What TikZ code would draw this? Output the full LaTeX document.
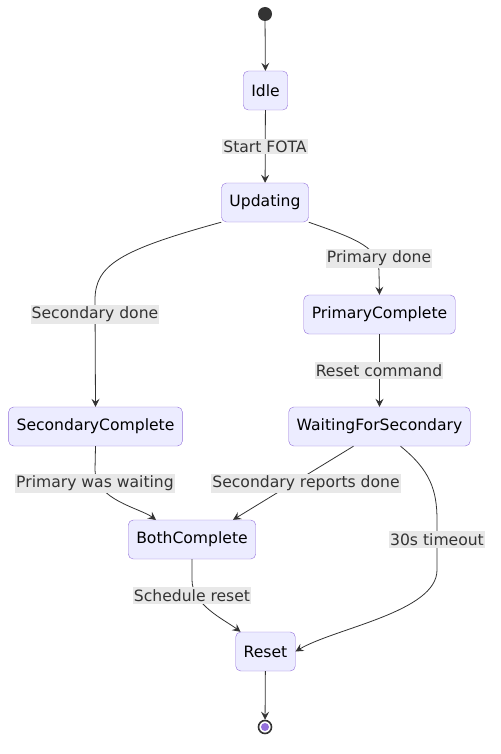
\documentclass[tikz,border=0pt]{standalone}
\usepackage{fontspec}
\setmainfont{DejaVu Sans}
\usepackage{tikz}
\usetikzlibrary{arrows.meta}
\definecolor{stfill}{HTML}{ECECFF}
\definecolor{stline}{HTML}{9370DB}
\definecolor{ink}{HTML}{333333}
\definecolor{lblbg}{HTML}{E8E8E8}
\tikzset{
  statenode/.style = {rectangle, rounded corners=5pt, draw=stline, fill=stfill,
    text=black, inner xsep=8pt, minimum height=39pt,
    font=\fontsize{15.6}{18}\selectfont},% state box
  lbl/.style = {fill=lblbg, text=ink, inner xsep=1pt, inner ysep=2pt,
    font=\fontsize{15.6}{18}\selectfont},% edge label
  trans/.style = {draw=ink, line width=0.8pt,
    -{Stealth[length=8pt,width=8pt,inset=3pt]}},% transition
  startnode/.style = {circle, fill=ink, inner sep=0pt, minimum size=14pt},
  endnode/.style = {circle, draw=ink, line width=1.6pt, fill=white,
    inner sep=0pt, minimum size=13pt}
}

\begin{document}
\begin{tikzpicture}[x=1pt, y=-1pt]
  \useasboundingbox (0,0) rectangle (500,754);
  % states
  \node [startnode] (init) at (265,14) {};
  \node [statenode] (idle) at (265.5,90.5) {Idle};
  \node [statenode] (upd) at (265,202.5) {Updating};
  \node [statenode] (pc) at (379.5,314.5) {PrimaryComplete};
  \node [statenode] (sc) at (95.5,426.5) {SecondaryComplete};
  \node [statenode] (wfs) at (379.5,426.5) {WaitingForSecondary};
  \node [statenode] (both) at (192,539.5) {BothComplete};
  \node [statenode] (rst) at (265.5,651.5) {Reset};
  \node [endnode] (fin) at (265,727) {};
  \fill [stline] (fin) circle (4pt);
  % transitions
  \draw [trans] (init) -- (idle);
  \draw [trans] (idle) -- (upd);
  \draw [trans] (upd.south east) .. controls (360,240) and (379,248) .. (379,272) -- (pc.north);
  \draw [trans] (upd.south west) .. controls (120,250) and (95,265) .. (95,300) -- (sc.north);
  \draw [trans] (pc) -- (wfs);
  \draw [trans] (sc.south) -- (95,470) .. controls (95,500) and (140,508) .. (156,520);
  \draw [trans] ([xshift=-26pt]wfs.south) -- ([xshift=41pt]both.north);
  \draw [trans] ([xshift=21pt]wfs.south) .. controls (430,470) and (437,490) .. (437,520)
    -- (437,570) .. controls (437,612) and (335,628) .. (rst.east);
  \draw [trans] (both.south) -- (192,580) .. controls (192,605) and (225,620) .. ([xshift=-25pt]rst.north);
  \draw [trans] (rst) -- (fin);
  % labels
  \node [lbl] (l1) at (265,146.5) {Start FOTA};
  \node [lbl] (l2) at (379,258.5) {Primary done};
  \node [lbl] (l3) at (95,314.5) {Secondary done};
  \node [lbl] (l4) at (379,370.5) {Reset command};
  \node [lbl] (l5) at (95,483.5) {Primary was waiting};
  \node [lbl] (l6) at (306,483.5) {Secondary reports done};
  \node [lbl] (l7) at (437,539.5) {30s timeout};
  \node [lbl] (l8) at (192,595.5) {Schedule reset};
\end{tikzpicture}
\end{document}
